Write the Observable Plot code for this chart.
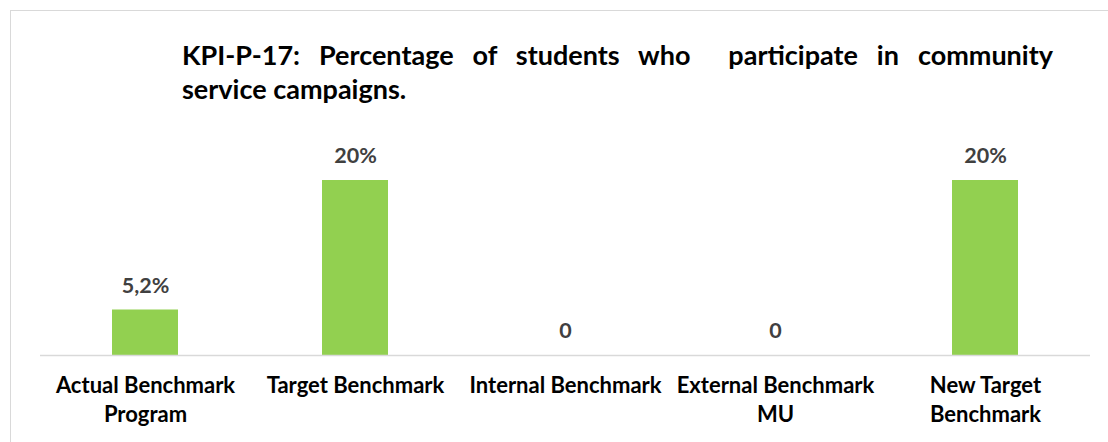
<!DOCTYPE html>
<html>
<head>
<meta charset="utf-8">
<script src="https://cdn.jsdelivr.net/npm/d3@7"></script>
<script src="https://cdn.jsdelivr.net/npm/@observablehq/plot@0.6"></script>
<style>
  html, body { margin: 0; padding: 0; background: #fff; }
  #wrap { position: relative; width: 1108px; height: 442px; overflow: hidden; font-family: Lato, "Open Sans", sans-serif; }
  #frame { position: absolute; left: 10px; top: 10px; width: 1300px; height: 700px; border: 1.5px solid #d9d9d9; box-sizing: border-box; }
  #title { position: relative; height: 110px; font-weight: bold; color: #000; font-size: 27px; }
  #title .l1, #title .l2 { position: absolute; left: 182px; width: 871px; white-space: pre-wrap; line-height: 1; }
  #title .l1 { top: 41px; text-align: justify; text-align-last: justify; }
  #title .l2 { top: 75px; text-align: left; }
  #chart { position: relative; }
</style>
</head>
<body>
<div id="wrap">
  <div id="frame"></div>
  <div id="title">
    <div class="l1">KPI-P-17: Percentage of students who  participate in community</div>
    <div class="l2">service campaigns.</div>
  </div>
  <div id="chart"></div>
</div>
<script>
const categories = ["Actual Benchmark Program", "Target Benchmark", "Internal Benchmark", "External Benchmark MU", "New Target Benchmark"];
const tickLabels = ["Actual Benchmark\nProgram", "Target Benchmark", "Internal Benchmark", "External Benchmark\nMU", "New Target\nBenchmark"];
const values = [5.2, 20, 0, 0, 20];
const valueLabels = ["5,2%", "20%", "0", "0", "20%"];

const data = categories.map((c, i) => ({category: c, value: values[i], label: valueLabels[i]}));

const chart = Plot.plot({
  width: 1108,
  height: 332,
  marginTop: 70,
  marginBottom: 87,
  marginLeft: 40,
  marginRight: 18,
  style: {fontFamily: "Lato, 'Open Sans', sans-serif", fontWeight: "bold", background: "transparent", overflow: "visible"},
  x: {domain: categories, paddingInner: 0.686, paddingOuter: 0.343, axis: null},
  y: {domain: [0, 20], axis: null},
  marks: [
    Plot.barY(data, {x: "category", y: "value", fill: "#92D050"}),
    Plot.ruleY([0], {stroke: "#d9d9d9", strokeWidth: 1.5}),
    Plot.text(data, {x: "category", y: "value", text: "label", dy: -24, fill: "#404040", fontSize: 21.5, fontWeight: "bold", lineAnchor: "middle"}),
    Plot.axisX({tickSize: 0, tickPadding: 16, fontSize: 22, fontWeight: "bold", fill: "#000", lineHeight: 1.35, label: null,
      tickFormat: d => tickLabels[categories.indexOf(d)]})
  ]
});
document.getElementById("chart").appendChild(chart);
</script>
</body>
</html>
